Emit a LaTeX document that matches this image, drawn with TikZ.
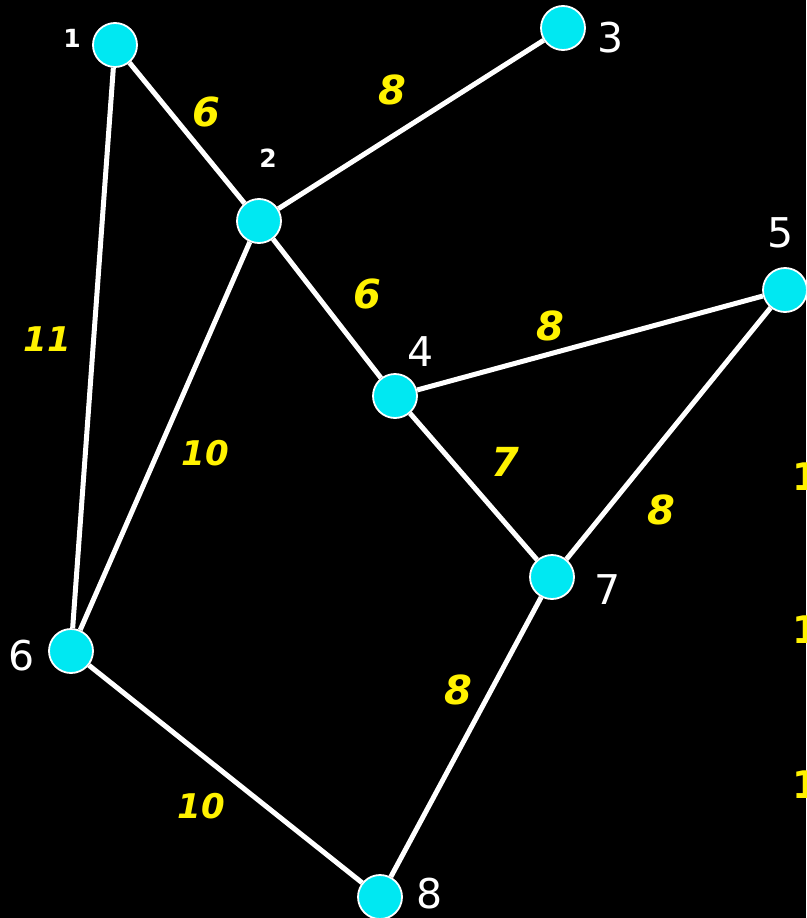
\documentclass[tikz,border=0pt]{standalone}
\usepackage{fontspec}
\setmainfont{DejaVu Sans}
\definecolor{vcyan}{RGB}{0,232,242}
\begin{document}
\begin{tikzpicture}[x=1pt,y=-1pt,
  vtx/.style={circle,draw=white,line width=1.8pt,fill=vcyan,minimum size=44pt,inner sep=0pt},
  edge/.style={draw=white,line width=5pt},
  wt/.style={text=yellow,font=\fontsize{40}{40}\selectfont\bfseries\itshape},
  wtt/.style={text=yellow,font=\fontsize{34}{34}\selectfont\bfseries\itshape},
  wtr/.style={text=yellow,font=\fontsize{38}{38}\selectfont\bfseries},
  lbl/.style={text=white,font=\fontsize{41}{41}\selectfont},
  lbls/.style={text=white,font=\fontsize{25}{25}\selectfont\bfseries}]
\clip (0,0) rectangle (806,918);
\fill[black] (0,0) rectangle (806,918);
\node[vtx] (n1) at (115,45) {};
\node[vtx] (n2) at (259,221) {};
\node[vtx] (n3) at (563,28) {};
\node[vtx] (n4) at (395,396) {};
\node[vtx] (n5) at (785,290) {};
\node[vtx] (n6) at (71,651) {};
\node[vtx] (n7) at (552,577) {};
\node[vtx] (n8) at (380,897) {};
\draw[edge] (n1) -- (n2);
\draw[edge] (n1) -- (n6);
\draw[edge] (n2) -- (n3);
\draw[edge] (n2) -- (n4);
\draw[edge] (n2) -- (n6);
\draw[edge] (n4) -- (n5);
\draw[edge] (n4) -- (n7);
\draw[edge] (n5) -- (n7);
\draw[edge] (n6) -- (n8);
\draw[edge] (n7) -- (n8);
\node[lbls] (l1) at (72,38) {1};
\node[lbls] (l2) at (268,158) {2};
\node[lbl] (l3) at (611,38) {3};
\node[lbl] (l4) at (421,352) {4};
\node[lbl] (l5) at (781,233) {5};
\node[lbl] (l6) at (22,656) {6};
\node[lbl] (l7) at (608,590) {7};
\node[lbl] (l8) at (430,894) {8};
\node[wt] (w12) at (206,112) {6};
\node[wtt] (w16) at (47,339) {11};
\node[wt] (w23) at (392,90) {8};
\node[wt] (w24) at (367,294) {6};
\node[wtt] (w26) at (205,453) {10};
\node[wt] (w45) at (550,326) {8};
\node[wt] (w47) at (505,462) {7};
\node[wt] (w57) at (661,510) {8};
\node[wtt] (w68) at (201,806) {10};
\node[wt] (w78) at (458,690) {8};
\node[wtr,anchor=west,inner sep=0pt] (r1) at (792,477) {1};
\node[wtr,anchor=west,inner sep=0pt] (r2) at (792,630) {1};
\node[wtr,anchor=west,inner sep=0pt] (r3) at (792,785) {1};
\end{tikzpicture}
\end{document}
